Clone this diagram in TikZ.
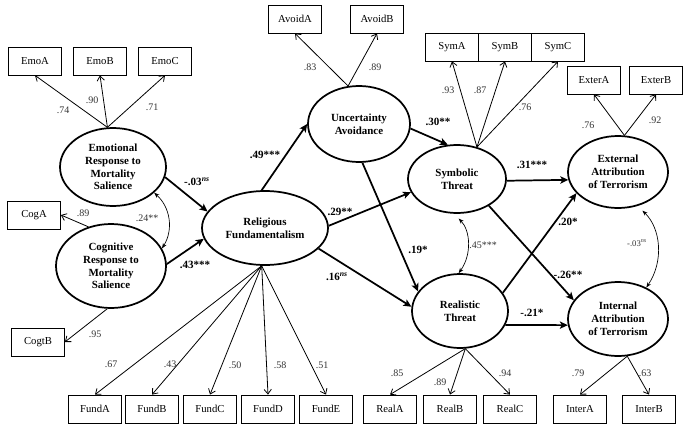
\documentclass[tikz,border=0pt]{standalone}
\usepackage{fontspec}
\setmainfont{Liberation Serif}
\usetikzlibrary{shapes.geometric,arrows.meta}

\begin{document}
\begin{tikzpicture}[x=0.75pt,y=0.75pt,yscale=-1,xscale=1,
  latent/.style={ellipse,draw,line width=1.3pt,inner sep=0pt,align=center,font=\fontsize{8.2}{9.6}\selectfont\bfseries},
  obs/.style={rectangle,draw,line width=0.6pt,minimum width=39.75pt,minimum height=21pt,inner sep=0pt,font=\fontsize{8}{9.6}\selectfont},
  load/.style={-{Straight Barb[length=3.5pt,width=5.5pt]},line width=0.6pt},
  regr/.style={-{Stealth[length=6pt,width=5.5pt,inset=1.5pt]},line width=1.3pt},
  corr/.style={{Stealth[length=4pt,width=3pt]}-{Stealth[length=4pt,width=3pt]},line width=0.5pt},
  lw/.style={inner sep=0.75pt,font=\fontsize{7.5}{9}\selectfont,text=black!80},
  est/.style={inner sep=0.75pt,font=\fontsize{8.3}{9.6}\selectfont\bfseries}
]
\useasboundingbox (0,0) rectangle (685,432);

%Shape: Ellipse (latent variables)
\node [latent,minimum width=79.5pt,minimum height=58.5pt] (emo) at (113,167) {Emotional\\Response to\\Mortality\\Salience};
\node [latent,minimum width=82.5pt,minimum height=63pt] (cog) at (111,266) {Cognitive\\Response to\\Mortality\\Salience};
\node [latent,minimum width=94.5pt,minimum height=55.5pt] (rel) at (265,228) {Religious\\Fundamentalism};
\node [latent,minimum width=76.5pt,minimum height=57pt] (unc) at (359,124) {Uncertainty\\Avoidance};
\node [latent,minimum width=73.5pt,minimum height=51pt] (sym) at (457,179) {Symbolic\\Threat};
\node [latent,minimum width=75pt,minimum height=54pt] (ext) at (618,172) {External\\Attribution\\of Terrorism};
\node [latent,minimum width=72pt,minimum height=55.5pt] (real) at (460,311) {Realistic\\Threat};
\node [latent,minimum width=75pt,minimum height=55.5pt] (int) at (618,319) {Internal\\Attribution\\of Terrorism};

%Shape: Rectangle (indicators)
\node [obs] (emoA) at (35,61) {EmoA};
\node [obs] (emoB) at (100,61) {EmoB};
\node [obs] (emoC) at (165,61) {EmoC};
\node [obs] (cogA) at (34,215) {CogA};
\node [obs] (cogB) at (38,342) {CogtB};
\node [obs] (fundA) at (95,409) {FundA};
\node [obs] (fundB) at (152,409) {FundB};
\node [obs] (fundC) at (210,409) {FundC};
\node [obs] (fundD) at (268,409) {FundD};
\node [obs] (fundE) at (326,409) {FundE};
\node [obs] (realA) at (390,409) {RealA};
\node [obs] (realB) at (450,409) {RealB};
\node [obs] (realC) at (510,409) {RealC};
\node [obs] (interA) at (580,409) {InterA};
\node [obs] (interB) at (649,409) {InterB};
\node [obs] (avoidA) at (295,19) {AvoidA};
\node [obs] (avoidB) at (377,19) {AvoidB};
\node [obs] (symA) at (452,47) {SymA};
\node [obs] (symB) at (505,47) {SymB};
\node [obs] (symC) at (558,47) {SymC};
\node [obs] (exterA) at (594,80) {ExterA};
\node [obs] (exterB) at (656,80) {ExterB};

%Straight Lines (loadings)
\draw [load] (emo.98) -- (emoA.south);
\draw [load] (emo.98) -- (emoB.south);
\draw [load] (emo.98) -- (emoC.south);
\draw [load] (cog.120) -- (cogA.east);
\draw [load] (cog.265) -- (cogB.east);
\draw [load] (rel.265) -- (fundA.north);
\draw [load] (rel.265) -- (fundB.north);
\draw [load] (rel.265) -- (fundC.north);
\draw [load] (rel.265) -- (fundD.north);
\draw [load] (rel.265) -- (fundE.north);
\draw [load] (real.278) -- (realA.north);
\draw [load] (real.278) -- (realB.north);
\draw [load] (real.278) -- (realC.north);
\draw [load] (int.-76) -- (interA.north);
\draw [load] (int.-76) -- (interB.north);
\draw [load] (unc.106) -- (avoidA.south);
\draw [load] (unc.106) -- (avoidB.south);
\draw [load] (sym.58) -- (symA.south);
\draw [load] (sym.58) -- (symB.south);
\draw [load] (sym.58) -- (symC.south);
\draw [load] (ext.80) -- (exterA.south);
\draw [load] (ext.80) -- (exterB.south);

%Straight Lines (structural paths)
\draw [regr] (emo.-11) -- (rel.164);
\draw [regr] (cog.2) -- (rel.190);
\draw [regr] (rel.95) -- (unc.180);
\draw [regr] (rel.2) -- (sym.196);
\draw [regr] (rel.-21) -- (real.175);
\draw [regr] (unc.-5) -- (sym.105);
\draw [regr] (unc.-85) -- (real.155);
\draw [regr] (sym.-2) -- (ext.189);
\draw [regr] (sym.-40) -- (int.157);
\draw [regr] (real.23) -- (ext.207);
\draw [regr] (real.-17) -- (int.187);

%Curve Lines (correlations)
\draw [corr] (emo.-32) to [bend right=40] (cog.19);
\draw [corr,shorten <=5pt] (sym.265) to [bend right=40] (real.92);
\draw [corr,shorten <=5pt] (ext.-60) to [bend right=40] (int.48);

% Text Node
\node [lw] (l1) at (63,110) {.74};
\node [lw] (l2) at (92,100) {.90};
\node [lw] (l3) at (152,107) {.71};
\node [lw] (l4) at (83,213) {.89};
\node [lw] (l5) at (95,334) {.95};
\node [lw] (l6) at (111,364) {.67};
\node [lw] (l7) at (170,364) {.43};
\node [lw] (l8) at (235,365) {.50};
\node [lw] (l9) at (280,365) {.58};
\node [lw] (l10) at (322,365) {.51};
\node [lw] (l11) at (397,373) {.85};
\node [lw] (l12) at (440,382) {.89};
\node [lw] (l13) at (505,373) {.94};
\node [lw] (l14) at (578,373) {.79};
\node [lw] (l15) at (645,373) {.63};
\node [lw] (l16) at (310,67) {.83};
\node [lw] (l17) at (375,67) {.89};
\node [lw] (l18) at (448,90) {.93};
\node [lw] (l19) at (480,90) {.87};
\node [lw] (l20) at (525,107) {.76};
\node [lw] (l21) at (588,125) {.76};
\node [lw] (l22) at (655,120) {.92};
% Text Node
\node [lw] (c1) at (147,218) {.24**};
\node [lw] (c2) at (483,245) {.45***};
\node [lw,font=\fontsize{6.5}{8}\selectfont] (c3) at (637,243) {-.03\textsuperscript{\textit{ns}}};
% Text Node
\node [est] (e1) at (197,182) {-.03\textsuperscript{\textit{ns}}};
\node [est] (e2) at (195,265) {.43***};
\node [est] (e3) at (265,155) {.49***};
\node [est] (e4) at (340,212) {.29**};
\node [est] (e5) at (337,277) {.16\textsuperscript{\textit{ns}}};
\node [est] (e6) at (418,250) {.19*};
\node [est] (e7) at (438,122) {.30**};
\node [est] (e8) at (532,165) {.31***};
\node [est] (e9) at (568,222) {.20*};
\node [est] (e10) at (568,275) {-.26**};
\node [est] (e11) at (532,313) {-.21*};

\end{tikzpicture}
\end{document}
